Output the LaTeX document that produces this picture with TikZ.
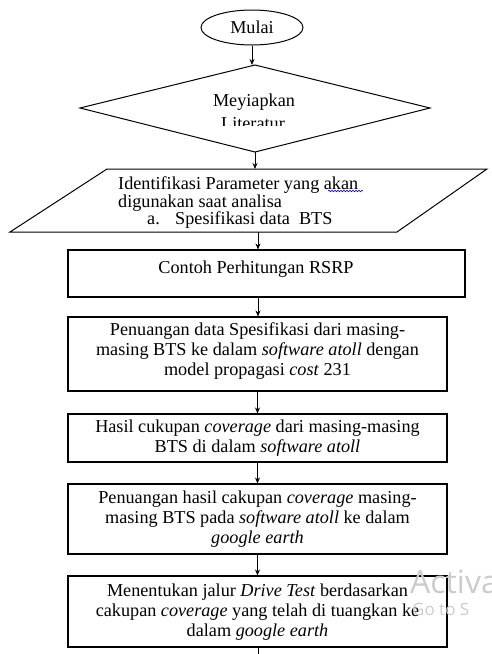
\documentclass[tikz,border=0pt]{standalone}
\usepackage{fontspec}
\setmainfont{Liberation Serif}
\newfontfamily\wmfont{Open Sans}
\usetikzlibrary{arrows.meta,shapes.geometric,decorations.pathmorphing}
\definecolor{wm}{gray}{0.80}
\begin{document}
\begin{tikzpicture}[x=1pt,y=-1pt,
  txt/.style={font=\fontsize{18.2}{20}\selectfont, align=center, inner sep=0pt},
  box/.style={draw, line width=1.1pt, minimum width=379pt, inner sep=0pt},
  arr/.style={line width=0.9pt, -{Stealth[length=6pt,width=5pt]}},
  shp/.style={draw, line width=1pt}]
\useasboundingbox (0,0) rectangle (491,654);
% start
\node[shp, ellipse, minimum width=102pt, minimum height=35pt, inner sep=0pt, txt] (mulai) at (252,27.5) {Mulai};
% diamond
\coordinate (dt) at (255,65);
\coordinate (dl) at (80,108);
\coordinate (dr) at (430,108);
\coordinate (db) at (255,152);
\draw[shp] (dt) -- (dr) -- (db) -- (dl) -- cycle;
\node[txt, anchor=base] (lit1) at (254,106) {Meyiapkan};
\begin{scope}
\clip (0,0) rectangle (491,125);
\node[txt, anchor=base] (lit2) at (253,129) {Literatur};
\end{scope}
% parallelogram
\coordinate (ptl) at (107,169);
\coordinate (ptr) at (487,169);
\coordinate (pbr) at (397,232);
\coordinate (pbl) at (10,232);
\coordinate (pt) at (255,169);
\coordinate (pb) at (258,232);
\draw[shp] (ptl) -- (ptr) -- (pbr) -- (pbl) -- cycle;
\node[txt, anchor=base west] (p1) at (118,189) {Identifikasi Parameter yang akan};
\node[txt, anchor=base west] (p2) at (118,207) {digunakan saat analisa};
\node[txt, anchor=base west] (p3a) at (147,224) {a.};
\node[txt, anchor=base west] (p3b) at (175,224) {Spesifikasi data\ \ BTS};
\coordinate (wv1) at (328,191);
\coordinate (wv2) at (363,191);
\draw[blue!70!black, line width=0.6pt, decorate, decoration={snake, amplitude=0.8pt, segment length=3pt}] (wv1) -- (wv2);
% boxes
\node[box, minimum width=397pt, minimum height=47pt] (r1) at (266.5,273.5) {};
\node[txt] (r1t) at (256,269) {Contoh Perhitungan RSRP};
\node[box, minimum height=74pt, txt] (r2) at (257.5,354) {};
\node[txt] (r2t) at (257.5,351) {Penuangan data Spesifikasi dari masing-\\masing BTS ke dalam \textit{software atoll} dengan\\model propagasi \textit{cost} 231};
\node[box, minimum height=48pt] (r3) at (257.5,438) {};
\node[txt] (r3t) at (257.5,438) {Hasil cukupan \textit{coverage} dari masing-masing\\BTS di dalam \textit{software atoll}};
\node[box, minimum height=70pt] (r4) at (257.5,519) {};
\node[txt] (r4t) at (257.5,519) {Penuangan hasil cakupan \textit{coverage} masing-\\masing BTS pada \textit{software atoll} ke dalam\\\textit{google earth}};
\node[box, minimum height=71pt] (r5) at (257.5,611.5) {};
\node[txt] (r5t) at (257.5,612) {Menentukan jalur \textit{Drive Test} berdasarkan\\cakupan \textit{coverage} yang telah di tuangkan ke\\dalam \textit{google earth}};
\coordinate (endc) at (258,662);
% connectors
\draw[arr] (mulai.south) -- (mulai.south |- dt);
\draw[arr] (db) -- (pt);
\draw[arr] (pb) -- (pb |- r1.north);
\draw[arr] (r1.south -| pb) -- (r2.north -| pb);
\draw[arr] (r2.south) -- (r3.north);
\draw[arr] (r3.south) -- (r4.north);
\draw[arr] (r4.south) -- (r5.north);
\draw[line width=0.9pt] (r5.south -| endc) -- (endc);
% watermark
\node[anchor=base west, inner sep=0pt, text=wm, font=\wmfont\fontsize{32}{36}\selectfont] (wm1) at (410,593) {Activa};
\node[anchor=base west, inner sep=0pt, text=wm, font=\wmfont\fontsize{17}{20}\selectfont] (wm2) at (412,615) {Go to S};
\end{tikzpicture}
\end{document}
